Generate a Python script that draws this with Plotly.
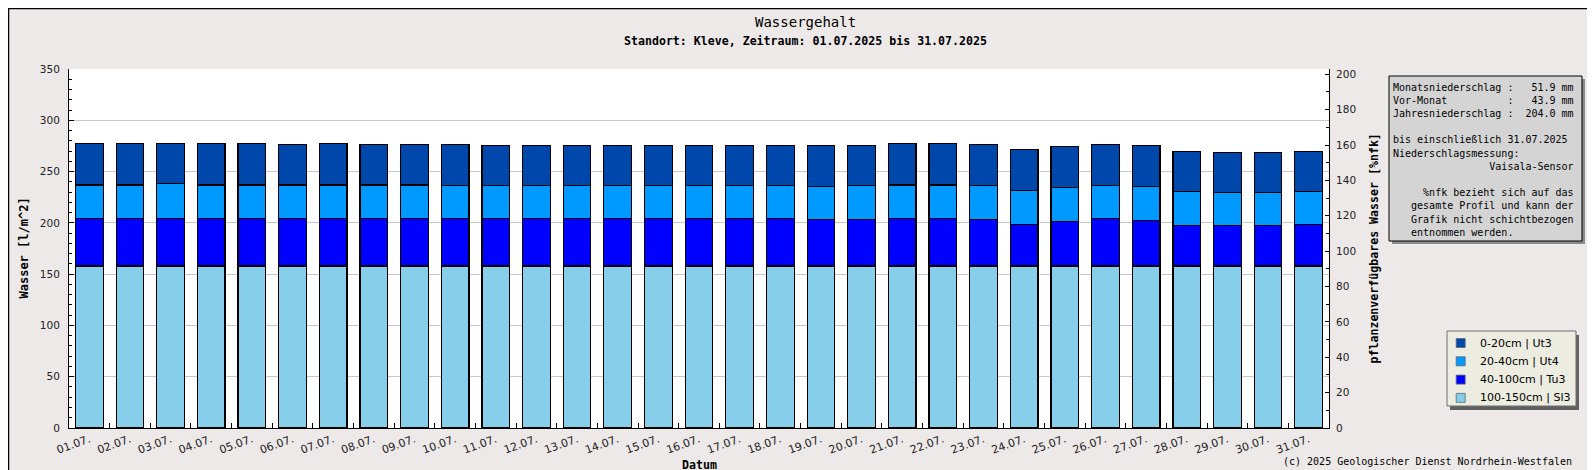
import plotly.graph_objects as go

# ---------------- data ----------------
dates = ["01.07.", "02.07.", "03.07.", "04.07.", "05.07.", "06.07.", "07.07.", "08.07.",
         "09.07.", "10.07.", "11.07.", "12.07.", "13.07.", "14.07.", "15.07.", "16.07.",
         "17.07.", "18.07.", "19.07.", "20.07.", "21.07.", "22.07.", "23.07.", "24.07.",
         "25.07.", "26.07.", "27.07.", "28.07.", "29.07.", "30.07.", "31.07."]

layer_100_150 = [158.0, 158.0, 158.0, 158.0, 158.0, 158.0, 158.0, 158.0, 158.0, 158.0,
                 158.0, 158.0, 158.0, 158.0, 158.0, 158.0, 158.0, 158.0, 158.0, 158.0,
                 158.0, 158.0, 158.0, 158.0, 158.0, 158.0, 158.0, 158.0, 158.0, 158.0,
                 158.0]
layer_40_100 = [46.2, 46.2, 46.2, 46.2, 46.2, 46.2, 46.2, 46.2, 46.2, 46.2,
                46.2, 46.2, 46.2, 46.2, 46.2, 46.2, 46.2, 46.2, 45.2, 45.2,
                46.2, 46.2, 45.2, 40.7, 43.3, 46.2, 44.3, 39.4, 39.4, 39.4,
                40.7]
layer_20_40 = [32.8, 32.8, 33.8, 32.8, 32.8, 32.8, 32.8, 32.8, 32.8, 32.2,
               32.2, 32.2, 32.2, 32.2, 32.2, 32.2, 32.2, 32.2, 32.2, 33.2,
               32.8, 32.8, 33.2, 32.8, 33.1, 32.2, 33.1, 33.1, 32.2, 32.2,
               31.8]
layer_0_20 = [40.3, 40.3, 39.3, 40.3, 40.3, 39.3, 40.3, 39.3, 39.3, 39.9,
              38.9, 38.9, 38.9, 38.9, 38.9, 38.9, 38.9, 38.9, 39.9, 38.9,
              40.3, 40.3, 39.9, 40.3, 40.0, 39.9, 39.9, 39.0, 38.9, 38.9,
              39.0]

series_names = ["100-150cm | Sl3", "40-100cm | Tu3", "20-40cm | Ut4", "0-20cm | Ut3"]
series_values = [layer_100_150, layer_40_100, layer_20_40, layer_0_20]
series_colors = ["#87CEEB", "#0000FF", "#0099FF", "#0047AB"]

info_lines = [
    "Monatsniederschlag :   51.9 mm",
    "Vor-Monat          :   43.9 mm",
    "Jahresniederschlag :  204.0 mm",
    "",
    "bis einschließlich 31.07.2025",
    "Niederschlagsmessung:",
    "                Vaisala-Sensor",
    "",
    "     %nfk bezieht sich auf das",
    "   gesamte Profil und kann der",
    "   Grafik nicht schichtbezogen",
    "   entnommen werden.",
]

# ---------------- layout geometry ----------------
W, H = 1595, 470
ML, MR, MT, MB = 61, 274, 61, 50
PW = W - ML - MR
PH = H - MT - MB


def px(x):
    return (x - ML) / PW


def py(y):
    return (H - MB - y) / PH


MONO = "DejaVu Sans Mono"
SANS = "DejaVu Sans"
BG = "#ECE9E8"

fig = go.Figure()
for name, vals, col in zip(series_names, series_values, series_colors):
    fig.add_trace(go.Bar(
        x=dates, y=vals, name=name,
        marker=dict(color=col, line=dict(color="#000000", width=1.2)),
    ))

# invisible helper so the right-hand axis is rendered
fig.add_trace(go.Scatter(x=[dates[0]], y=[0], yaxis="y2", mode="markers",
                         marker=dict(opacity=0), showlegend=False, hoverinfo="skip"))

shapes = []
annotations = []

# figure border
shapes.append(dict(type="rect", xref="paper", yref="paper",
                   x0=px(0.5), x1=px(W - 0.5), y0=py(0.5), y1=py(H - 0.5),
                   line=dict(color="#000000", width=1.5), layer="below"))

# info box shadow + box
bx0, by0, bx1, by1 = 1381, 68, 1574, 233
shapes.append(dict(type="rect", xref="paper", yref="paper",
                   x0=px(bx0 + 3), x1=px(bx1 + 3), y0=py(by1 + 3), y1=py(by0 + 3),
                   fillcolor="#8C8C8C", line=dict(width=0), layer="above"))
shapes.append(dict(type="rect", xref="paper", yref="paper",
                   x0=px(bx0), x1=px(bx1), y0=py(by1), y1=py(by0),
                   fillcolor="#D4D4D4", line=dict(color="#000000", width=1), layer="above"))
for i, line in enumerate(info_lines):
    if not line:
        continue
    annotations.append(dict(
        x=px(1383), y=py(79 + 13.2 * i), xref="paper", yref="paper",
        xanchor="left", yanchor="middle", showarrow=False,
        text=line.replace(" ", "\u00a0"),
        font=dict(family=MONO, size=10, color="#000000"),
    ))

# legend (drawn by hand to match the original box geometry)
lx0, ly0, lx1, ly1 = 1439, 323, 1568, 398
shapes.append(dict(type="rect", xref="paper", yref="paper",
                   x0=px(lx0 + 3), x1=px(lx1 + 3), y0=py(ly1 + 4), y1=py(ly0 + 4),
                   fillcolor="#606060", line=dict(width=0), layer="above"))
shapes.append(dict(type="rect", xref="paper", yref="paper",
                   x0=px(lx0), x1=px(lx1), y0=py(ly1), y1=py(ly0),
                   fillcolor="#ECECE0", line=dict(color="#707070", width=1), layer="above"))
legend_order = list(reversed(range(len(series_names))))
for row, k in enumerate(legend_order):
    cy = 335 + 18.3 * row
    shapes.append(dict(type="rect", xref="paper", yref="paper",
                       x0=px(1448.2), x1=px(1457.2), y0=py(cy + 4.5), y1=py(cy - 4.5),
                       fillcolor=series_colors[k], line=dict(color="#5A6A7A", width=0.8),
                       layer="above"))
    annotations.append(dict(x=px(1470), y=py(cy), xref="paper", yref="paper",
                            xanchor="left", yanchor="middle", showarrow=False,
                            text=series_names[k],
                            font=dict(family=SANS, size=11, color="#000000")))

# titles
annotations.append(dict(x=px(W / 2), y=py(14), xref="paper", yref="paper",
                        text="Wassergehalt", showarrow=False, yanchor="middle",
                        font=dict(family=MONO, size=14, color="#000000")))
annotations.append(dict(x=px(W / 2), y=py(33), xref="paper", yref="paper",
                        text="Standort: Kleve, Zeitraum: 01.07.2025 bis 31.07.2025",
                        showarrow=False, yanchor="middle",
                        font=dict(family=MONO, size=11.6, color="#000000", weight="bold")))
annotations.append(dict(x=px(15), y=0.5, xref="paper", yref="paper",
                        text="Wasser [l/m^2]", textangle=-90, showarrow=False,
                        xanchor="center", yanchor="middle",
                        font=dict(family=MONO, size=12, color="#000000", weight="bold")))
annotations.append(dict(x=px(1365), y=0.5, xref="paper", yref="paper",
                        text="pflanzenverfügbares Wasser [%nfk]", textangle=-90,
                        showarrow=False, xanchor="center", yanchor="middle",
                        font=dict(family=MONO, size=11.6, color="#000000", weight="bold")))
annotations.append(dict(x=0.5, y=py(457), xref="paper", yref="paper",
                        text="Datum", showarrow=False, yanchor="middle",
                        font=dict(family=MONO, size=11.6, color="#000000", weight="bold")))
annotations.append(dict(x=px(1566), y=py(454), xref="paper", yref="paper",
                        text="(c) 2025 Geologischer Dienst Nordrhein-Westfalen",
                        showarrow=False, xanchor="right", yanchor="middle",
                        font=dict(family=MONO, size=10, color="#000000")))

fig.update_layout(
    width=W, height=H,
    margin=dict(l=ML, r=MR, t=MT, b=MB, autoexpand=False),
    paper_bgcolor=BG, plot_bgcolor="#FFFFFF",
    barmode="stack", bargap=0.32,
    showlegend=False,
    xaxis=dict(
        type="category", range=[-0.5, len(dates) - 0.5],
        tickson="boundaries", ticks="inside", ticklen=5,
        tickcolor="#000000", showline=True, linecolor="#000000", linewidth=1,
        tickangle=-20, showgrid=False,
        tickfont=dict(family=SANS, size=11, color="#222222"),
    ),
    yaxis=dict(
        range=[0, 350], dtick=50, ticks="inside", ticklen=5, tickcolor="#000000",
        showline=True, linecolor="#000000", linewidth=1,
        showgrid=True, gridcolor="#C8C8C8", gridwidth=1, zeroline=False,
        minor=dict(dtick=10, ticks="inside", ticklen=3, tickcolor="#000000", showgrid=False),
        ticklabelstandoff=6,
        tickfont=dict(family=SANS, size=10.5, color="#222222"),
    ),
    yaxis2=dict(
        overlaying="y", side="right", range=[0, 203], dtick=20,
        ticks="inside", ticklen=4, tickcolor="#000000",
        showline=True, linecolor="#000000", linewidth=1,
        showgrid=False, zeroline=False,
        minor=dict(dtick=10, ticks="inside", ticklen=3, tickcolor="#000000", showgrid=False),
        ticklabelstandoff=4,
        tickfont=dict(family=SANS, size=10.5, color="#222222"),
    ),
    shapes=shapes,
    annotations=annotations,
)

fig.write_html("out.html")
